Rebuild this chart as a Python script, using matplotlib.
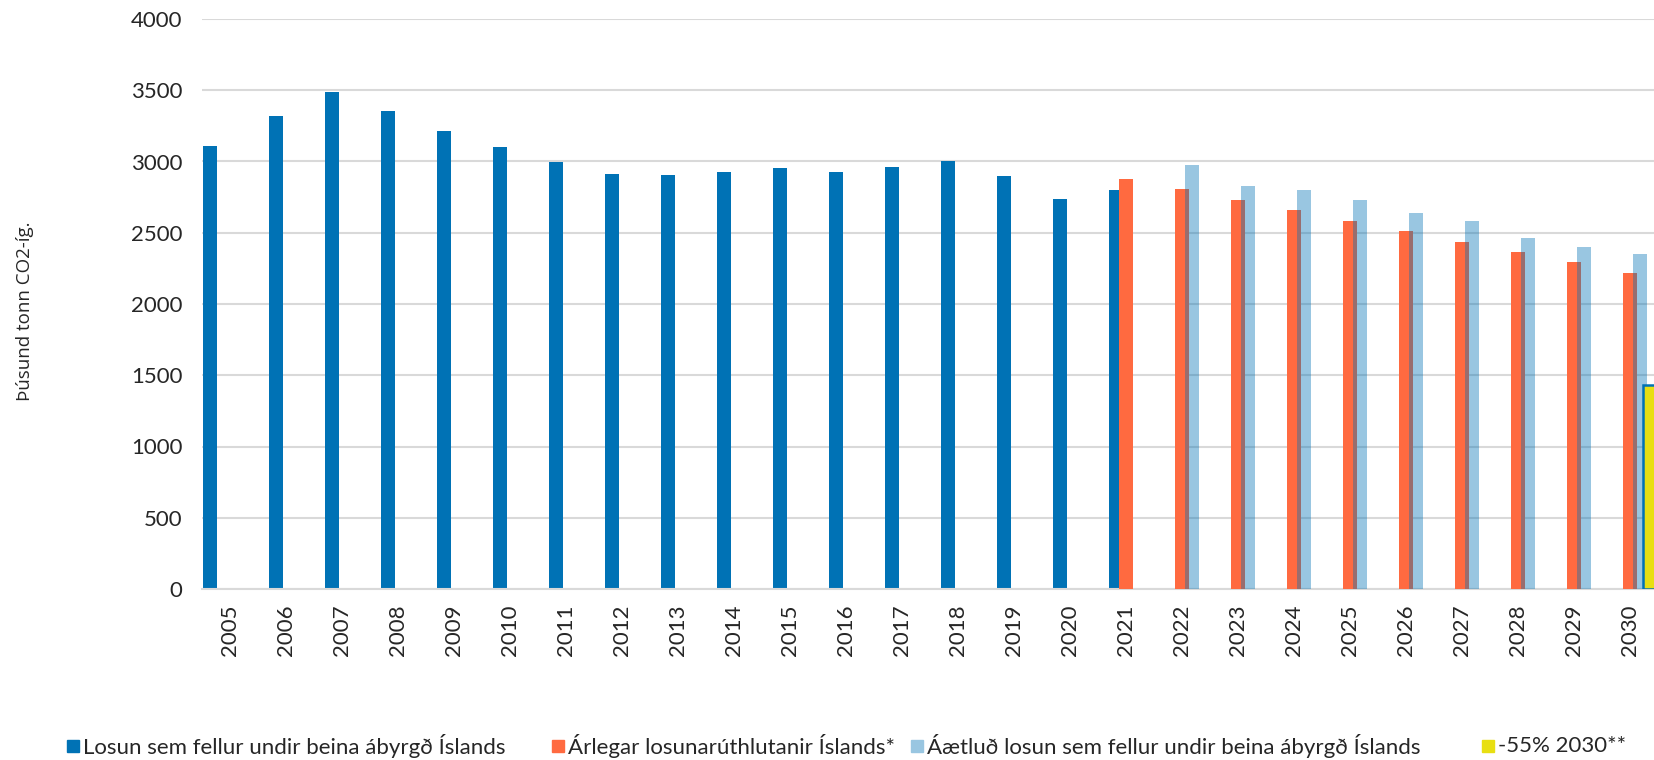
import numpy as np
import matplotlib
matplotlib.use('Agg')
import matplotlib.pyplot as plt
from matplotlib.patches import Rectangle

years = list(range(2005, 2031))

# 2005 base year sits in its own series slot
base_years = [2005]
base_values = [3110]

emis_years = list(range(2006, 2022))
emis_values = [3319, 3490, 3352, 3216, 3104, 2995, 2914, 2906, 2928,
               2951, 2928, 2958, 3003, 2899, 2739, 2800]

alloc_years = list(range(2021, 2031))
alloc_values = [2879, 2804, 2732, 2659, 2584, 2512, 2437, 2364, 2292, 2217]

proj_years = list(range(2022, 2031))
proj_values = [2978, 2830, 2797, 2727, 2640, 2579, 2463, 2402, 2353]

target_years = [2030]
target_values = [1435]

legend_labels = ['Losun sem fellur undir beina ábyrgð Íslands',
                 'Árlegar losunarúthlutanir Íslands*',
                 'Áætluð losun sem fellur undir beina ábyrgð Íslands',
                 '-55% 2030**']

blue = '#0072b5'
orange = '#ff6a40'
yellow = '#e8df12'
txt = '#262626'
grid = '#d9d9d9'

plt.rcParams['font.family'] = ['Lato', 'DejaVu Sans']

fig = plt.figure(figsize=(16.54, 7.6), dpi=100)
# plot area runs a few pixels past the right edge of the picture, as in the source
ax = fig.add_axes([202 / 1654, 171 / 760, 1456 / 1654, 570 / 760])

step = 0.18
w = 0.26


def idx(ys):
    return np.array([years.index(y) for y in ys])


ax.bar(idx(base_years) - 2 * step, base_values, w, color=blue, zorder=2)
ax.bar(idx(emis_years) - step, emis_values, w, color=blue, zorder=2)
ax.bar(idx(alloc_years), alloc_values, w, color=orange, zorder=3)
ax.bar(idx(proj_years) + step, proj_values, w, color=blue, alpha=0.4, zorder=4)
ax.bar(idx(target_years) + 2 * step, target_values, w, color=yellow,
       edgecolor=blue, linewidth=1.8, zorder=5)

ax.set_xlim(-0.5, len(years) - 0.5)
ax.set_ylim(0, 4000)
ax.set_yticks(range(0, 4001, 500))
ax.set_xticks(range(len(years)))
ax.set_xticklabels([str(y) for y in years], rotation=90)
ax.tick_params(axis='y', length=0, pad=14, labelsize=16, labelcolor=txt)
ax.tick_params(axis='x', length=0, pad=11, labelsize=16, labelcolor=txt)

ax.grid(axis='y', color=grid, linewidth=1.5, zorder=0)
ax.set_axisbelow(True)
for s in ['top', 'right', 'left']:
    ax.spines[s].set_visible(False)
ax.spines['bottom'].set_color(grid)
ax.spines['bottom'].set_linewidth(1.5)

fig.text(25 / 1654, 1 - 311 / 760, 'Þúsund tonn CO2-íg.', rotation=90,
         ha='center', va='center', fontsize=13.5, color=txt,
         family=['Open Sans', 'DejaVu Sans'])

# legend drawn by hand so the entries sit where they do in the source
leg_colors = [blue, orange, '#99c6e1', yellow]
leg_x = [67, 552, 911, 1482]
ly = 746
for lab, col, x in zip(legend_labels, leg_colors, leg_x):
    fig.patches.append(Rectangle((x / 1654, 1 - (ly + 6) / 760), 12 / 1654, 12 / 760,
                                 transform=fig.transFigure, color=col))
    fig.text((x + 16) / 1654, 1 - ly / 760, lab, ha='left', va='center',
             fontsize=16, color=txt)

fig.savefig('out.png', dpi=100)
